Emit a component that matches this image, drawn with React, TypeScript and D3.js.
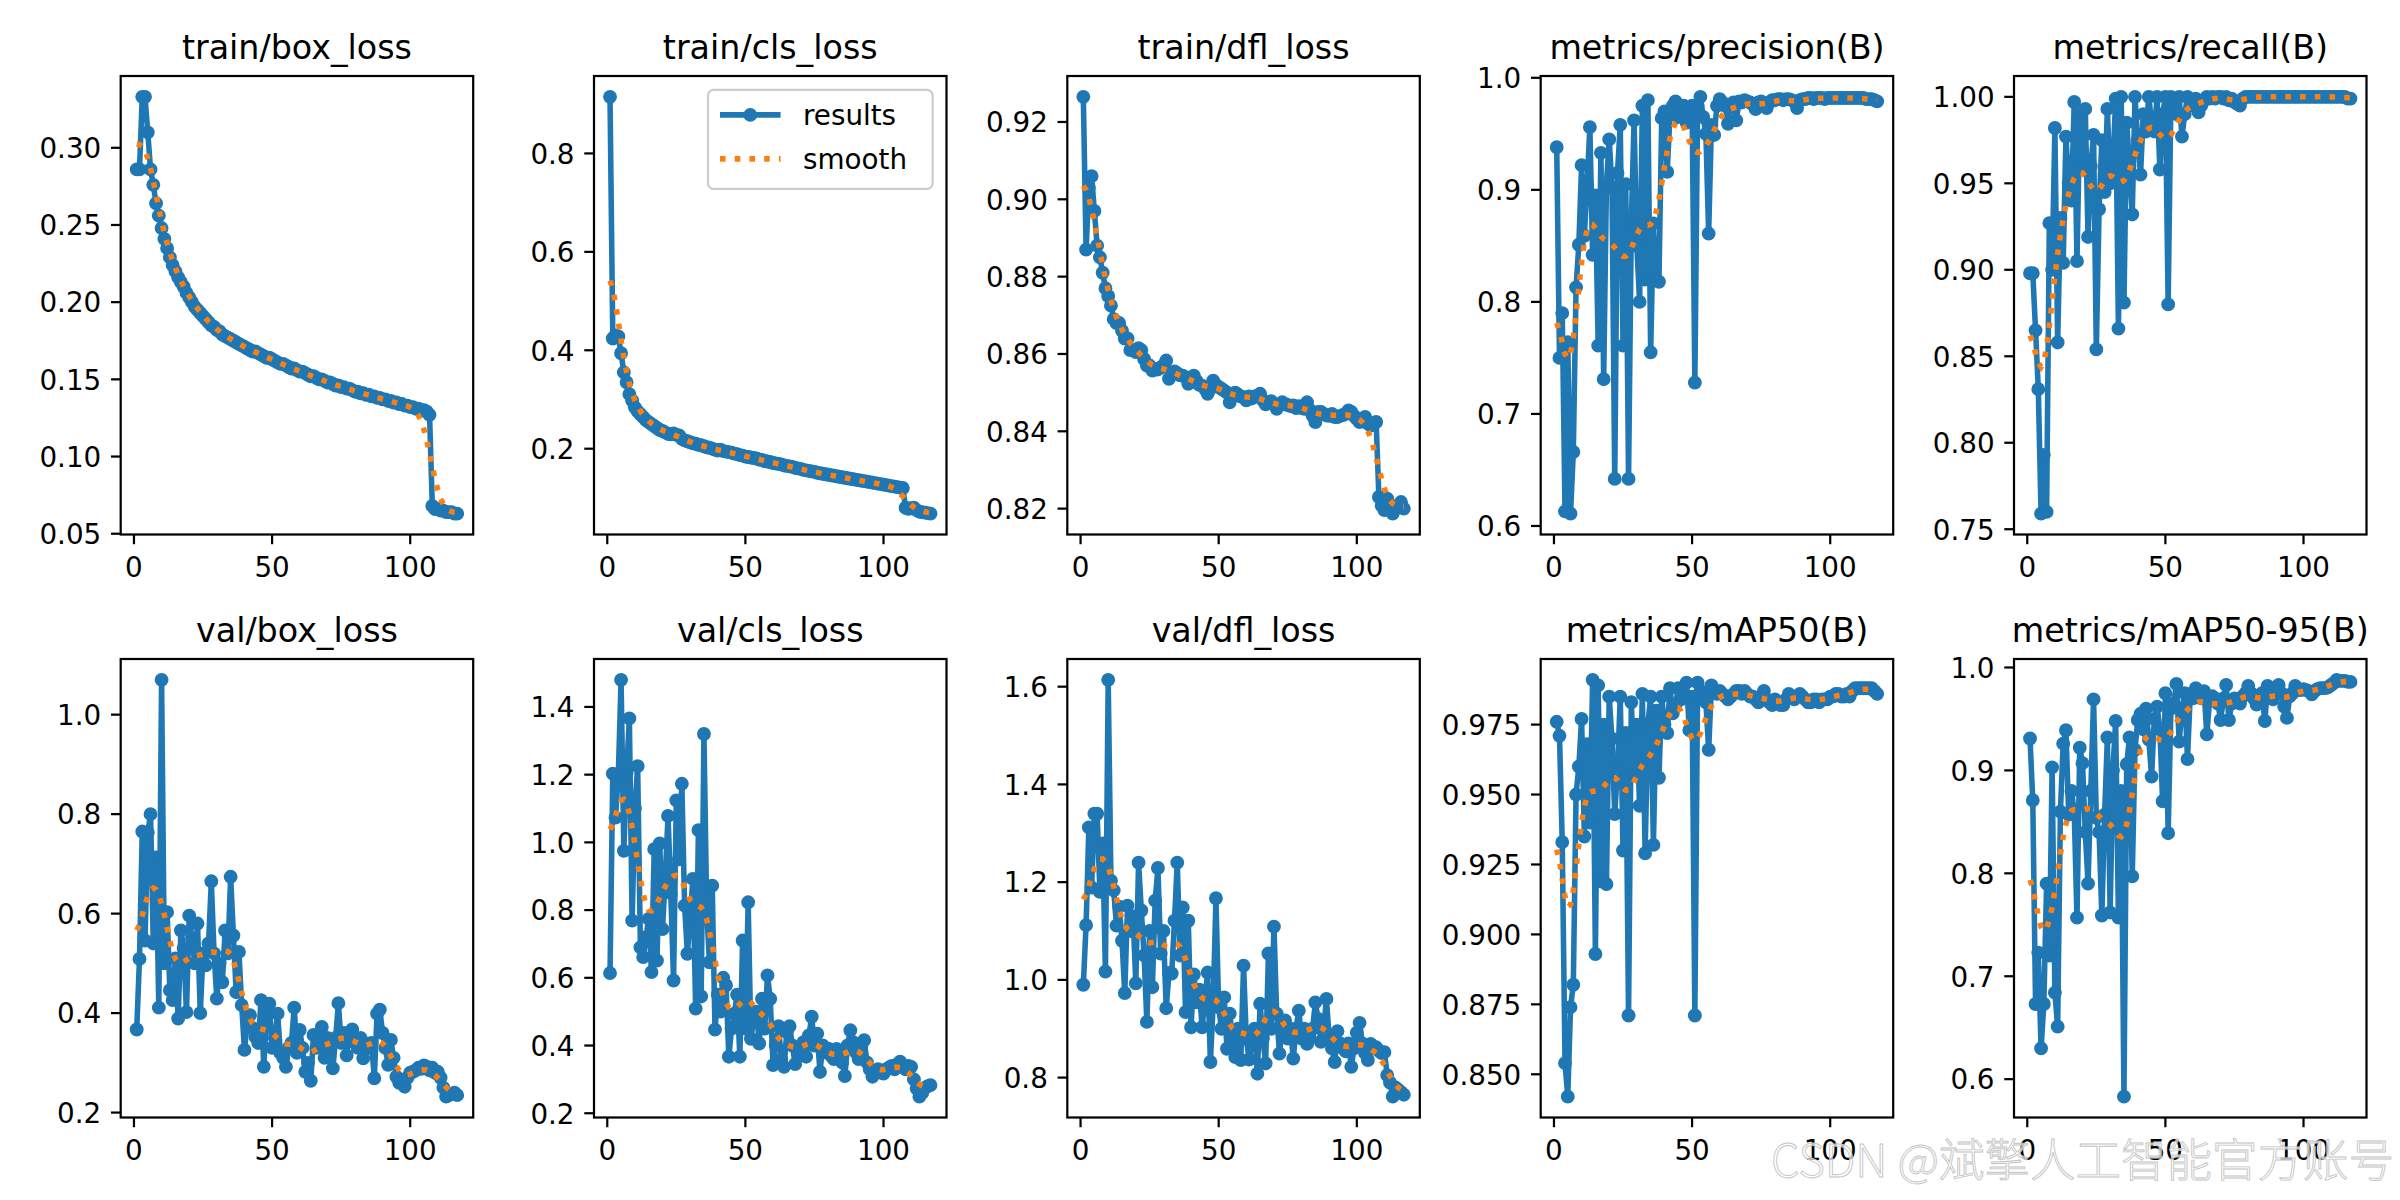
import React from "react";
import * as d3 from "d3";

// ---------- data ----------
const epochs = Array.from({ length: 117 }, (_, i) => i + 1);

const trainBoxLoss = [
  0.286, 0.286, 0.333, 0.333, 0.310, 0.286, 0.276, 0.264, 0.256, 0.248,
  0.241, 0.235, 0.229, 0.224, 0.220, 0.216, 0.213, 0.210, 0.206, 0.203,
  0.200, 0.197, 0.195, 0.193, 0.191, 0.189, 0.187, 0.185, 0.184, 0.182,
  0.181, 0.179, 0.178, 0.177, 0.176, 0.175, 0.174, 0.173, 0.172, 0.171,
  0.170, 0.169, 0.168, 0.168, 0.167, 0.166, 0.165, 0.164, 0.164, 0.163,
  0.162, 0.161, 0.160, 0.160, 0.159, 0.158, 0.157, 0.157, 0.156, 0.155,
  0.155, 0.154, 0.153, 0.152, 0.152, 0.151, 0.150, 0.150, 0.149, 0.148,
  0.148, 0.147, 0.146, 0.146, 0.145, 0.145, 0.144, 0.144, 0.143, 0.142,
  0.142, 0.141, 0.141, 0.140, 0.140, 0.139, 0.139, 0.138, 0.138, 0.137,
  0.137, 0.136, 0.136, 0.135, 0.135, 0.134, 0.134, 0.133, 0.133, 0.132,
  0.132, 0.131, 0.131, 0.130, 0.130, 0.129, 0.127, 0.068, 0.066, 0.066,
  0.065, 0.065, 0.064, 0.064, 0.064, 0.063, 0.063,
];

const trainClsLoss = [
  0.915, 0.424, 0.430, 0.428, 0.394, 0.355, 0.335, 0.311, 0.298, 0.284,
  0.276, 0.270, 0.264, 0.258, 0.254, 0.250, 0.246, 0.242, 0.238, 0.236,
  0.233, 0.230, 0.229, 0.231, 0.228, 0.227, 0.220, 0.217, 0.215, 0.213,
  0.211, 0.210, 0.208, 0.207, 0.205, 0.203, 0.202, 0.200, 0.198, 0.196,
  0.198, 0.195, 0.194, 0.193, 0.192, 0.190, 0.189, 0.187, 0.186, 0.184,
  0.183, 0.182, 0.181, 0.180, 0.178, 0.177, 0.175, 0.174, 0.173, 0.171,
  0.170, 0.169, 0.168, 0.166, 0.165, 0.164, 0.163, 0.161, 0.160, 0.159,
  0.157, 0.156, 0.155, 0.154, 0.153, 0.151, 0.150, 0.149, 0.148, 0.147,
  0.146, 0.145, 0.144, 0.143, 0.142, 0.141, 0.140, 0.139, 0.138, 0.137,
  0.136, 0.135, 0.134, 0.133, 0.132, 0.131, 0.130, 0.129, 0.128, 0.127,
  0.126, 0.125, 0.124, 0.123, 0.122, 0.121, 0.120, 0.080, 0.078, 0.079,
  0.080, 0.075, 0.072, 0.071, 0.070, 0.069, 0.068,
];

const trainDflLoss = [
  0.9265, 0.887, 0.903, 0.906, 0.897, 0.888, 0.885, 0.881, 0.877, 0.875,
  0.8725, 0.869, 0.868, 0.868, 0.866, 0.864, 0.864, 0.861, 0.861, 0.8605,
  0.8615, 0.861, 0.8587, 0.857, 0.857, 0.8557, 0.856, 0.856, 0.8565, 0.857,
  0.8583, 0.8536, 0.855, 0.8555, 0.855, 0.8545, 0.8544, 0.854, 0.8523, 0.853,
  0.8544, 0.853, 0.852, 0.8518, 0.851, 0.8497, 0.851, 0.8531, 0.852, 0.8515,
  0.851, 0.8505, 0.85, 0.8475, 0.8497, 0.85, 0.8495, 0.849, 0.8488, 0.848,
  0.849, 0.8485, 0.849, 0.8492, 0.8497, 0.848, 0.847, 0.8475, 0.8478, 0.847,
  0.8458, 0.847, 0.8475, 0.847, 0.8468, 0.8465, 0.8467, 0.846, 0.8465, 0.846,
  0.8458, 0.8475, 0.8455, 0.844, 0.8424, 0.845, 0.845, 0.8445, 0.8441, 0.844,
  0.8445, 0.8437, 0.8437, 0.844, 0.8442, 0.8445, 0.8454, 0.845, 0.844, 0.8432,
  0.8424, 0.843, 0.8437, 0.842, 0.8415, 0.842, 0.8424, 0.823, 0.8208, 0.8196,
  0.8226, 0.821, 0.8187, 0.82, 0.8205, 0.8217, 0.82,
];

const precision = [
  0.938, 0.750, 0.790, 0.613, 0.764, 0.611, 0.666, 0.813, 0.851, 0.922,
  0.859, 0.905, 0.956, 0.842, 0.895, 0.761, 0.933, 0.731, 0.905, 0.945,
  0.902, 0.642, 0.915, 0.958, 0.761, 0.905, 0.642, 0.870, 0.962, 0.850,
  0.800, 0.975, 0.820, 0.980, 0.755, 0.870, 0.820, 0.818, 0.964, 0.970,
  0.916, 0.967, 0.975, 0.979, 0.965, 0.972, 0.975, 0.960, 0.970, 0.975,
  0.728, 0.975, 0.983, 0.965, 0.950, 0.861, 0.958, 0.949, 0.975, 0.981,
  0.978, 0.975, 0.959, 0.975, 0.978, 0.962, 0.979, 0.978, 0.980, 0.979,
  0.978, 0.976, 0.972, 0.978, 0.979, 0.976, 0.973, 0.978, 0.980, 0.980,
  0.981, 0.981, 0.980, 0.981, 0.981, 0.980, 0.979, 0.973, 0.980, 0.981,
  0.981, 0.982, 0.982, 0.981, 0.982, 0.982, 0.982, 0.981, 0.982, 0.982,
  0.982, 0.982, 0.982, 0.982, 0.982, 0.982, 0.982, 0.982, 0.982, 0.982,
  0.982, 0.982, 0.981, 0.981, 0.981, 0.980, 0.979,
];

const recall = [
  0.898, 0.898, 0.865, 0.831, 0.759, 0.793, 0.760, 0.927, 0.900, 0.982,
  0.858, 0.930, 0.904, 0.977, 0.950, 0.940, 0.997, 0.905, 0.990, 0.960,
  0.993, 0.919, 0.960, 0.978, 0.854, 0.935, 0.975, 0.945, 0.993, 0.950,
  0.960, 0.999, 0.866, 1.000, 0.881, 0.985, 0.960, 0.932, 1.000, 0.975,
  0.955, 0.990, 0.980, 1.000, 0.985, 0.980, 1.000, 0.958, 0.990, 1.000,
  0.880, 1.000, 0.995, 0.990, 1.000, 0.977, 0.990, 1.000, 0.998, 0.995,
  0.999, 0.991, 0.995, 0.998, 1.000, 0.999, 1.000, 0.999, 1.000, 1.000,
  0.999, 1.000, 0.998, 0.999, 0.997, 0.996, 0.995, 0.999, 1.000, 1.000,
  1.000, 1.000, 1.000, 1.000, 1.000, 1.000, 1.000, 1.000, 1.000, 1.000,
  1.000, 1.000, 1.000, 1.000, 1.000, 1.000, 1.000, 1.000, 1.000, 1.000,
  1.000, 1.000, 1.000, 1.000, 1.000, 1.000, 1.000, 1.000, 1.000, 1.000,
  1.000, 1.000, 1.000, 1.000, 1.000, 0.999, 0.999,
];

const valBoxLoss = [
  0.367, 0.509, 0.765, 0.546, 0.763, 0.800, 0.540, 0.713, 0.411, 1.070,
  0.500, 0.603, 0.446, 0.426, 0.510, 0.389, 0.566, 0.530, 0.402, 0.596,
  0.550, 0.500, 0.580, 0.400, 0.520, 0.496, 0.540, 0.665, 0.520, 0.429,
  0.500, 0.462, 0.566, 0.520, 0.674, 0.556, 0.442, 0.523, 0.416, 0.326,
  0.380, 0.396, 0.370, 0.352, 0.340, 0.426, 0.292, 0.400, 0.419, 0.330,
  0.350, 0.399, 0.320, 0.310, 0.292, 0.330, 0.340, 0.411, 0.320, 0.366,
  0.330, 0.282, 0.300, 0.264, 0.356, 0.330, 0.340, 0.372, 0.310, 0.350,
  0.330, 0.289, 0.350, 0.420, 0.340, 0.360, 0.315, 0.360, 0.367, 0.340,
  0.330, 0.350, 0.309, 0.339, 0.330, 0.340, 0.269, 0.399, 0.407, 0.360,
  0.330, 0.296, 0.346, 0.310, 0.272, 0.260, 0.265, 0.252, 0.270, 0.280,
  0.282, 0.285, 0.290, 0.288, 0.295, 0.292, 0.285, 0.290, 0.280, 0.282,
  0.270, 0.250, 0.232, 0.235, 0.237, 0.240, 0.235,
];

const valClsLoss = [
  0.614, 1.203, 1.073, 1.200, 1.480, 0.975, 1.205, 1.366, 0.769, 1.100,
  1.225, 0.690, 0.661, 0.720, 0.774, 0.617, 0.980, 0.651, 0.997, 0.744,
  0.900, 1.078, 0.850, 0.592, 1.124, 0.950, 1.173, 0.813, 0.671, 0.780,
  0.892, 0.509, 1.036, 0.545, 1.320, 0.800, 0.646, 0.872, 0.447, 0.550,
  0.500, 0.600, 0.578, 0.367, 0.450, 0.494, 0.550, 0.367, 0.710, 0.450,
  0.823, 0.420, 0.480, 0.500, 0.406, 0.538, 0.450, 0.607, 0.538, 0.342,
  0.400, 0.457, 0.360, 0.337, 0.440, 0.457, 0.400, 0.345, 0.390, 0.370,
  0.410, 0.367, 0.430, 0.485, 0.400, 0.435, 0.322, 0.400, 0.380, 0.391,
  0.370, 0.360, 0.390, 0.367, 0.350, 0.310, 0.400, 0.445, 0.410, 0.380,
  0.360, 0.400, 0.416, 0.350, 0.330, 0.308, 0.320, 0.330, 0.320, 0.317,
  0.330, 0.335, 0.340, 0.330, 0.345, 0.352, 0.340, 0.330, 0.340, 0.337,
  0.300, 0.273, 0.249, 0.260, 0.275, 0.280, 0.283,
];

const valDflLoss = [
  0.990, 1.112, 1.312, 1.189, 1.340, 1.340, 1.180, 1.279, 1.017, 1.614,
  1.203, 1.183, 1.111, 1.150, 1.080, 0.973, 1.152, 1.100, 1.130, 0.993,
  1.240, 1.142, 1.050, 0.914, 1.100, 0.985, 1.162, 1.229, 1.054, 1.100,
  0.942, 1.014, 1.013, 1.121, 1.240, 1.050, 1.148, 0.934, 1.121, 0.903,
  1.011, 0.954, 0.980, 0.903, 0.960, 1.015, 0.832, 0.950, 1.167, 0.944,
  0.900, 0.964, 0.859, 0.931, 0.880, 0.842, 0.900, 0.836, 1.029, 0.880,
  0.837, 0.869, 0.900, 0.808, 0.951, 0.880, 0.829, 1.054, 0.900, 1.109,
  0.931, 0.849, 0.900, 0.917, 0.880, 0.900, 0.839, 0.900, 0.937, 0.880,
  0.900, 0.869, 0.880, 0.900, 0.954, 0.920, 0.873, 0.900, 0.961, 0.880,
  0.860, 0.832, 0.895, 0.870, 0.860, 0.854, 0.870, 0.822, 0.860, 0.892,
  0.912, 0.870, 0.850, 0.836, 0.869, 0.860, 0.862, 0.855, 0.850, 0.852,
  0.805, 0.790, 0.761, 0.780, 0.775, 0.770, 0.765,
];

const mAP50 = [
  0.976, 0.971, 0.933, 0.854, 0.842, 0.874, 0.882, 0.950, 0.960, 0.977,
  0.935, 0.968, 0.940, 0.991, 0.893, 0.989, 0.919, 0.975, 0.918, 0.985,
  0.970, 0.943, 0.959, 0.985, 0.930, 0.972, 0.871, 0.983, 0.957, 0.975,
  0.946, 0.986, 0.929, 0.975, 0.985, 0.932, 0.980, 0.956, 0.985, 0.975,
  0.972, 0.988, 0.979, 0.982, 0.988, 0.984, 0.986, 0.990, 0.973, 0.985,
  0.871, 0.990, 0.987, 0.985, 0.983, 0.966, 0.989, 0.987, 0.986, 0.987,
  0.986, 0.985, 0.984, 0.985, 0.986, 0.987, 0.987, 0.986, 0.987, 0.986,
  0.985, 0.985, 0.984, 0.983, 0.985, 0.987, 0.984, 0.983, 0.982, 0.984,
  0.983, 0.982, 0.982, 0.984, 0.986, 0.985, 0.984, 0.985, 0.986, 0.985,
  0.984, 0.983, 0.983, 0.984, 0.984, 0.983, 0.984, 0.984, 0.984, 0.985,
  0.985, 0.986, 0.986, 0.985, 0.985, 0.986, 0.985, 0.987, 0.988, 0.988,
  0.988, 0.988, 0.988, 0.988, 0.988, 0.987, 0.986,
];

const mAP5095 = [
  0.931, 0.871, 0.673, 0.723, 0.630, 0.673, 0.790, 0.720, 0.903, 0.684,
  0.651, 0.860, 0.926, 0.939, 0.857, 0.880, 0.860, 0.757, 0.922, 0.907,
  0.840, 0.790, 0.880, 0.969, 0.854, 0.840, 0.759, 0.857, 0.932, 0.762,
  0.900, 0.948, 0.757, 0.880, 0.583, 0.906, 0.932, 0.797, 0.920, 0.949,
  0.955, 0.940, 0.960, 0.930, 0.894, 0.950, 0.962, 0.940, 0.870, 0.975,
  0.839, 0.960, 0.965, 0.984, 0.928, 0.960, 0.975, 0.911, 0.974, 0.970,
  0.980, 0.975, 0.970, 0.977, 0.935, 0.968, 0.972, 0.970, 0.965, 0.949,
  0.970, 0.983, 0.949, 0.965, 0.970, 0.968, 0.965, 0.972, 0.975, 0.982,
  0.975, 0.970, 0.964, 0.972, 0.975, 0.948, 0.982, 0.975, 0.969, 0.978,
  0.983, 0.975, 0.962, 0.951, 0.972, 0.975, 0.982, 0.978, 0.978, 0.979,
  0.978, 0.977, 0.974, 0.977, 0.979, 0.980, 0.980, 0.980, 0.981, 0.983,
  0.985, 0.988, 0.987, 0.987, 0.987, 0.986, 0.986,
];

const titles = [
  "train/box_loss", "train/cls_loss", "train/dfl_loss", "metrics/precision(B)", "metrics/recall(B)",
  "val/box_loss", "val/cls_loss", "val/dfl_loss", "metrics/mAP50(B)", "metrics/mAP50-95(B)",
];

const xTicks = [0, 50, 100];

const yTickLabels = [
  ["0.05", "0.10", "0.15", "0.20", "0.25", "0.30"],
  ["0.2", "0.4", "0.6", "0.8"],
  ["0.82", "0.84", "0.86", "0.88", "0.90", "0.92"],
  ["0.6", "0.7", "0.8", "0.9", "1.0"],
  ["0.75", "0.80", "0.85", "0.90", "0.95", "1.00"],
  ["0.2", "0.4", "0.6", "0.8", "1.0"],
  ["0.2", "0.4", "0.6", "0.8", "1.0", "1.2", "1.4"],
  ["0.8", "1.0", "1.2", "1.4", "1.6"],
  ["0.850", "0.875", "0.900", "0.925", "0.950", "0.975"],
  ["0.6", "0.7", "0.8", "0.9", "1.0"],
];

const legendLabels = ["results", "smooth"];
const watermark = "CSDN @斌擎人工智能官方账号";

const seriesList = [
  trainBoxLoss, trainClsLoss, trainDflLoss, precision, recall,
  valBoxLoss, valClsLoss, valDflLoss, mAP50, mAP5095,
];

// ---------- layout ----------
const W = 2400;
const H = 1200;
const colLefts = [120.7, 594, 1067.3, 1540.7, 2014];
const rowTops = [76, 659];
const AW = 352.5;
const AH = 458.5;
const PT = 200 / 72;
const BLUE = "#1f77b4";
const ORANGE = "#ff7f0e";
const FONT = "'DejaVu Sans', sans-serif";
const TICK_FS = 10 * PT;
const TITLE_FS = 12 * PT;
const LW = 2 * PT;
const TICKLEN = 3.5 * PT;
const TICKPAD = 3.5 * PT;
const SPINE = 0.8 * PT;

// gaussian_filter1d(sigma=3, mode="reflect") as used by the original plot
function gaussianSmooth(y: number[], sigma: number): number[] {
  const radius = Math.floor(4 * sigma + 0.5);
  const w: number[] = [];
  for (let k = -radius; k <= radius; k++) w.push(Math.exp((-0.5 * k * k) / (sigma * sigma)));
  const s = w.reduce((a, b) => a + b, 0);
  const n = y.length;
  const refl = (i: number) => {
    while (i < 0 || i >= n) {
      if (i < 0) i = -i - 1;
      if (i >= n) i = 2 * n - i - 1;
    }
    return i;
  };
  return y.map((_, i) => {
    let acc = 0;
    for (let k = -radius; k <= radius; k++) acc += w[k + radius] * y[refl(i + k)];
    return acc / s;
  });
}

function Panel(props: { idx: number }) {
  const { idx } = props;
  const values = seriesList[idx];
  const left = colLefts[idx % 5];
  const top = rowTops[Math.floor(idx / 5)];
  const smooth = gaussianSmooth(values, 3);

  const [x0, x1] = d3.extent(epochs) as [number, number];
  const xr = x1 - x0;
  const x = d3.scaleLinear().domain([x0 - 0.05 * xr, x1 + 0.05 * xr]).range([left, left + AW]);
  const all = values.concat(smooth);
  const lo = d3.min(all) as number;
  const hi = d3.max(all) as number;
  const yr = hi - lo;
  const y = d3.scaleLinear().domain([lo - 0.05 * yr, hi + 0.05 * yr]).range([top + AH, top]);

  const line = d3
    .line<number>()
    .x((_, i) => x(epochs[i]))
    .y((d) => y(d));

  const labels = yTickLabels[idx];
  const yTicks = labels.map((t) => +t).filter((v) => v >= y.domain()[0] - 1e-9 && v <= y.domain()[1] + 1e-9);

  return (
    <g>
      <path d={line(values) || ""} fill="none" stroke={BLUE} strokeWidth={LW} strokeLinejoin="round" strokeLinecap="square" />
      {values.map((v, i) => (
        <circle key={i} cx={x(epochs[i])} cy={y(v)} r={2 * PT} fill={BLUE} stroke={BLUE} strokeWidth={1 * PT} />
      ))}
      <path
        d={line(smooth) || ""}
        fill="none"
        stroke={ORANGE}
        strokeWidth={LW}
        strokeDasharray={`${2 * PT} ${3.3 * PT}`}
        strokeLinecap="butt"
      />
      <rect x={left} y={top} width={AW} height={AH} fill="none" stroke="#000" strokeWidth={SPINE} />
      {xTicks.map((t) => (
        <g key={"x" + t}>
          <line x1={x(t)} x2={x(t)} y1={top + AH} y2={top + AH + TICKLEN} stroke="#000" strokeWidth={SPINE} />
          <text x={x(t)} y={top + AH + 42.5} textAnchor="middle" fontFamily={FONT} fontSize={TICK_FS} fill="#000">
            {t}
          </text>
        </g>
      ))}
      {yTicks.map((v) => (
        <g key={"y" + v}>
          <line x1={left - TICKLEN} x2={left} y1={y(v)} y2={y(v)} stroke="#000" strokeWidth={SPINE} />
          <text x={left - TICKLEN - TICKPAD} y={y(v) + 10.3} textAnchor="end" fontFamily={FONT} fontSize={TICK_FS} fill="#000">
            {labels[labels.map((t) => +t).indexOf(v)]}
          </text>
        </g>
      ))}
      <text x={left + AW / 2} y={top - 6 * PT} textAnchor="middle" fontFamily={FONT} fontSize={TITLE_FS} fill="#000">
        {titles[idx]}
      </text>
      {idx === 1 && <Legend right={left + AW} top={top} />}
    </g>
  );
}

function Legend(props: { right: number; top: number }) {
  const fs = TICK_FS;
  const bx = props.right - 0.5 * fs - 224.6;
  const by = props.top + 0.5 * fs;
  const hx0 = bx + 12;
  const hx1 = hx0 + 2 * fs + 5;
  const rows = [by + 25, by + 69];
  return (
    <g>
      <rect x={bx} y={by} width={224.6} height={99} rx={0.2 * fs} fill="#fff" fillOpacity={0.8} stroke="#cccccc" strokeWidth={2.2} />
      <line x1={hx0} x2={hx1} y1={rows[0]} y2={rows[0]} stroke={BLUE} strokeWidth={LW} strokeLinecap="butt" />
      <circle cx={(hx0 + hx1) / 2} cy={rows[0]} r={2 * PT} fill={BLUE} stroke={BLUE} strokeWidth={1 * PT} />
      <line
        x1={hx0}
        x2={hx1}
        y1={rows[1]}
        y2={rows[1]}
        stroke={ORANGE}
        strokeWidth={LW}
        strokeDasharray={`${2 * PT} ${3.3 * PT}`}
      />
      {legendLabels.map((l, i) => (
        <text key={l} x={hx1 + 22.5} y={rows[i] + 10.5} fontFamily={FONT} fontSize={fs} fill="#000">
          {l}
        </text>
      ))}
    </g>
  );
}

export default function App() {
  return (
    <svg
      width={W}
      height={H}
      viewBox={`0 0 ${W} ${H}`}
      style={{ position: "absolute", left: 0, top: 0, background: "#fff", display: "block" }}
    >
      <rect x={0} y={0} width={W} height={H} fill="#fff" />
      {titles.map((_, i) => (
        <Panel key={i} idx={i} />
      ))}
      <text
        x={2394}
        y={1177}
        textAnchor="end"
        fontFamily="'Noto Sans CJK SC', sans-serif"
        fontWeight={300}
        fontSize={45.5}
        fill="#ffffff"
        fillOpacity={0.7}
        stroke="#c4c4c4"
        strokeWidth={0.9}
      >
        {watermark}
      </text>
    </svg>
  );
}
